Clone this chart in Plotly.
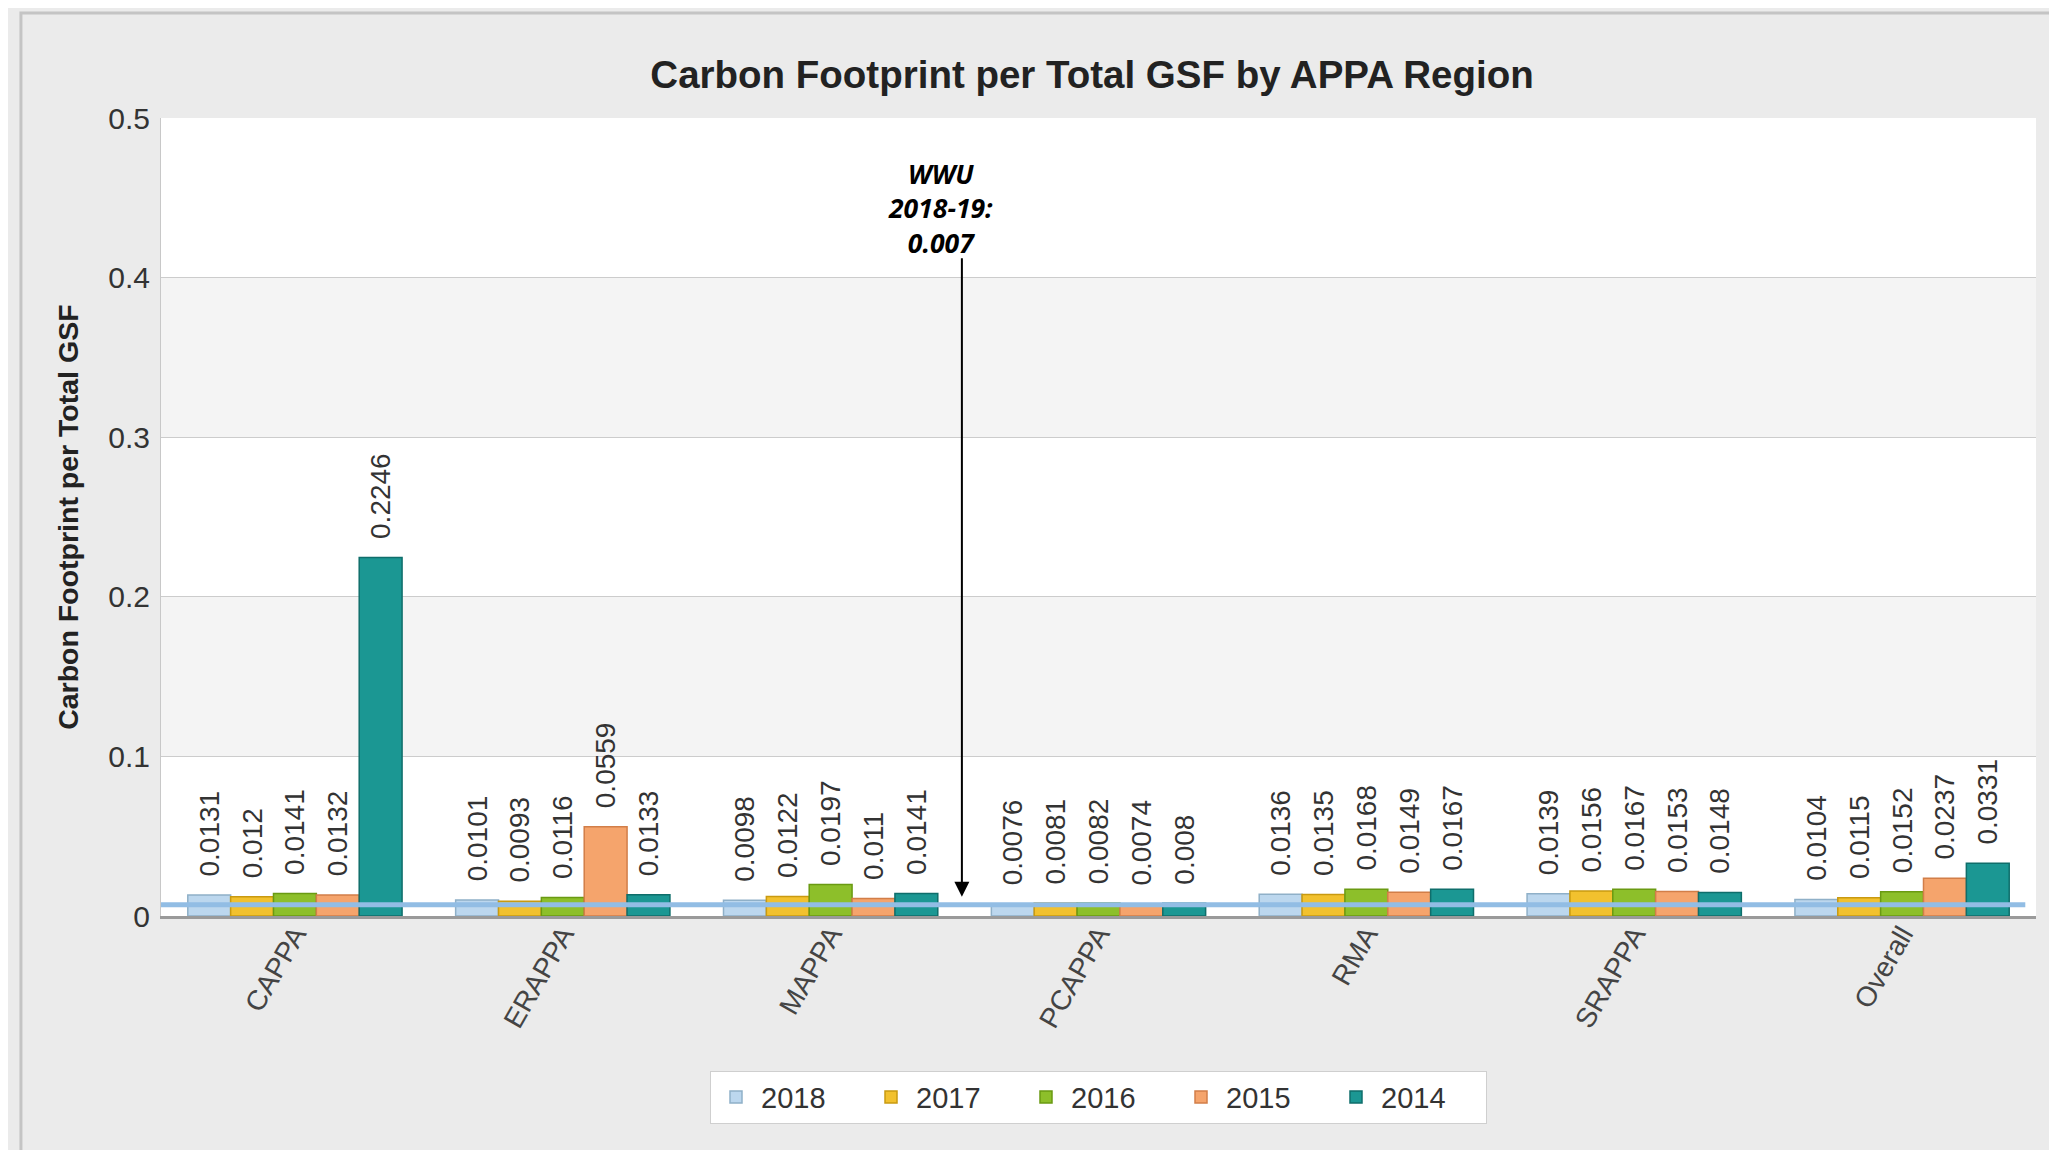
import plotly.graph_objects as go

# Dados
regions = ['CAPPA', 'ERAPPA', 'MAPPA', 'PCAPPA', 'RMA', 'SRAPPA', 'Overall']
years = ['2018', '2017', '2016', '2015', '2014']
v2018 = [0.0131, 0.0101, 0.0098, 0.0076, 0.0136, 0.0139, 0.0104]
v2017 = [0.012, 0.0093, 0.0122, 0.0081, 0.0135, 0.0156, 0.0115]
v2016 = [0.0141, 0.0116, 0.0197, 0.0082, 0.0168, 0.0167, 0.0152]
v2015 = [0.0132, 0.0559, 0.011, 0.0074, 0.0149, 0.0153, 0.0237]
v2014 = [0.2246, 0.0133, 0.0141, 0.008, 0.0167, 0.0148, 0.0331]
wwu_value = 0.007
wwu_lines = ['WWU', '2018-19:', '0.007']

series = [v2018, v2017, v2016, v2015, v2014]
colors = ['#bcd7ee', '#f2c12e', '#8dbf2a', '#f5a46c', '#1b9793']
edges = ['#8fb0c8', '#c99a10', '#6a9a12', '#d27e48', '#0f6e6b']

x_idx = list(range(len(regions)))

fig = go.Figure()
for name, vals, c, e in zip(years, series, colors, edges):
    fig.add_trace(go.Bar(
        x=x_idx, y=vals, name=name,
        marker=dict(color=c, line=dict(color=e, width=1.5)),
        # espaços no início = folga entre barra e rótulo
        text=['\u00a0\u00a0' + str(v) for v in vals],
        textposition='outside', textangle=-90, constraintext='none',
        textfont=dict(size=28, color='#333333', family='Liberation Sans'),
        cliponaxis=False,
    ))

# Faixas alternadas do fundo
for y0 in [0.1, 0.3]:
    fig.add_shape(type='rect', xref='paper', yref='y', x0=0, x1=1, y0=y0, y1=y0 + 0.1,
                  fillcolor='#f4f4f4', line_width=0, layer='below')

# Linha WWU
fig.add_shape(type='line', xref='x', yref='y', x0=-0.5, x1=6.46, y0=wwu_value, y1=wwu_value,
              line=dict(color='#92bde4', width=5))

# Seta e texto
fig.add_annotation(x=2.49, y=wwu_value, ax=2.49, ay=0.413, xref='x', yref='y',
                   axref='x', ayref='y', text='', showarrow=True, standoff=8,
                   arrowhead=2, arrowsize=1.5, arrowwidth=2, arrowcolor='black')
fig.add_annotation(x=2.41, y=0.4435, xref='x', yref='y',
                   text='<br>'.join('<b><i>%s</i></b>' % s for s in wwu_lines),
                   showarrow=False, align='center',
                   font=dict(size=26.5, color='black', family='Open Sans'))

# Titulo do eixo y
fig.add_annotation(x=-0.0593, y=0.5, xref='paper', yref='paper',
                   text='<b>Carbon Footprint per Total GSF</b>', textangle=-90,
                   showarrow=False, font=dict(size=28.5, color='#222222'))

# Moldura externa
fig.add_shape(type='rect', xref='paper', yref='paper', x0=-0.0747, x1=1.1, y0=-0.5, y1=1.1316,
              line=dict(color='#c4c4c4', width=3), fillcolor='rgba(0,0,0,0)', layer='below')

fig.update_layout(
    width=2057, height=1150,
    margin=dict(l=153, r=29, t=110, b=242),
    paper_bgcolor='#ebebeb',
    plot_bgcolor='white',
    barmode='group', bargap=0.2, bargroupgap=0,
    font=dict(family='Liberation Sans', color='#333333'),
    title=dict(text='<b>Carbon Footprint per Total GSF by APPA Region</b>',
               x=0.527, xanchor='center', y=0.942, yanchor='middle',
               font=dict(size=38.5, color='#222222')),
    showlegend=True,
    legend=dict(orientation='h', x=0.5, xanchor='center', y=-0.227, yanchor='middle',
                bgcolor='white', bordercolor='#cfcfcf', borderwidth=1,
                font=dict(size=29, color='#333333'), itemwidth=40,
                entrywidth=100, entrywidthmode='pixels',
                traceorder='normal'),
)

fig.update_xaxes(tickmode='array', tickvals=x_idx, ticktext=regions, tickangle=-60,
                 range=[-0.5, 6.5], tickfont=dict(size=28, color='#444444'),
                 ticklabelstandoff=-12,
                 showline=True, linecolor='#9a9a9a', linewidth=3, mirror=False,
                 showgrid=False, zeroline=False, automargin=False)
fig.update_yaxes(range=[0, 0.5], dtick=0.1, tickfont=dict(size=30, color='#333333'),
                 ticklabelstandoff=4,
                 gridcolor='#cccccc', gridwidth=1, zeroline=False,
                 showline=True, linecolor='#c8c8c8', linewidth=1, automargin=False)

fig.write_html("out.html")
